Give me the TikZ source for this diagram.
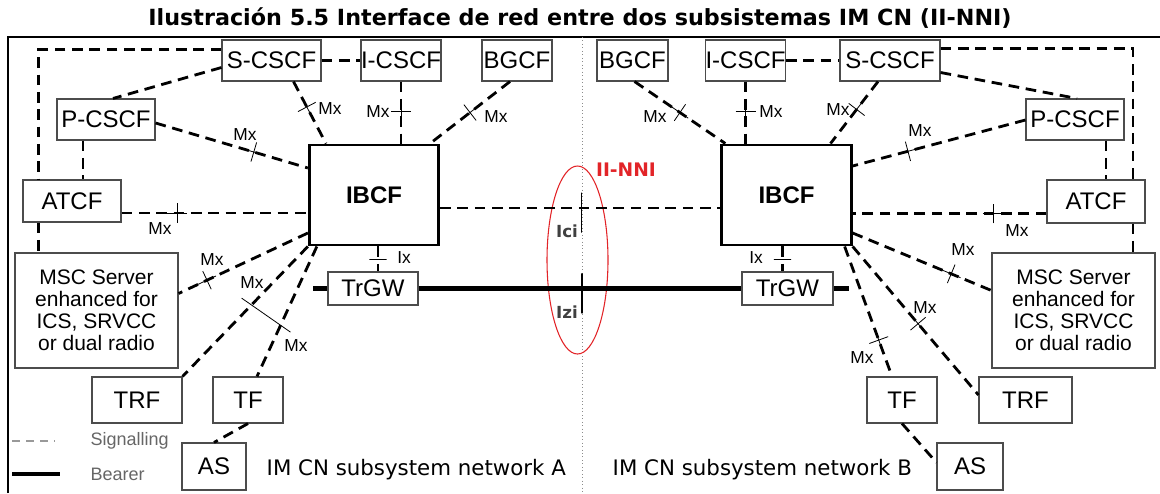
\documentclass[tikz,border=0pt]{standalone}
\usepackage{fontspec}
\setmainfont{Liberation Sans}
\newfontfamily\tahfont{DejaVu Sans}
\usepackage{tikz}
\usetikzlibrary{shapes.misc,calc}
\definecolor{nnired}{RGB}{226,36,40}

\begin{document}
\begin{tikzpicture}[x=0.75pt, y=-0.75pt,
    box/.style={draw=black!70, line width=0.8pt, inner sep=0pt, minimum height=30.75pt, font=\fontsize{18}{20}\selectfont},
    ibcf/.style={draw, line width=2.2pt, inner sep=0pt, minimum width=97pt, minimum height=75pt, font=\bfseries\fontsize{18}{20}\selectfont},
    msc/.style={box, minimum width=122.25pt, minimum height=86.25pt, align=center, font=\fontsize{15.75}{16.5}\selectfont},
    sig/.style={line width=2.1pt, dash pattern=on 8pt off 5pt},
    bearer/.style={line width=3.2pt},
    cross/.style={sloped, cross out, draw, solid, rotate=45, minimum size=10pt, inner sep=0pt, line width=0.6pt},
    bar/.style={sloped, draw, solid, inner sep=0pt, minimum width=0pt, line width=0.7pt},
    mx/.style={font=\fontsize{13}{15}\selectfont},
    netlabel/.style={anchor=west, font=\tahfont\fontsize{16}{18}\selectfont},
    legend/.style={anchor=west, text=black!60, font=\fontsize{13.5}{15}\selectfont}]

    \useasboundingbox (0, 0) rectangle (1160, 493);

    \node [font=\tahfont\bfseries\fontsize{16.7}{19}\selectfont] (title) at (580, 18) {Ilustración 5.5 Interface de red entre dos subsistemas IM CN (II-NNI)};
    \draw [line width=1.1pt] (8, 493) |- (1160, 37);
    \draw [black!45, dotted, line width=0.6pt] (582, 37) -- (582, 493);

    \node [box, minimum width=74.25pt] (sA) at (271.5, 60.5) {S-CSCF};
    \node [box, minimum width=58.5pt] (iA) at (401, 60.5) {I-CSCF};
    \node [box, minimum width=52.5pt] (bA) at (517, 60.5) {BGCF};
    \node [box, minimum width=73.5pt] (pA) at (106, 119.5) {P-CSCF};
    \node [box, minimum width=73.5pt, minimum height=31.5pt] (aA) at (72, 201) {ATCF};
    \node [ibcf] (ibA) at (374, 195) {IBCF};
    \node [box, minimum width=67.5pt, minimum height=24.75pt] (tA) at (373, 288.5) {TrGW};
    \node [msc] (mA) at (96.5, 310.5) {MSC Server\\enhanced for\\ICS, SRVCC\\or dual radio};
    \node [box, minimum width=67.5pt, minimum height=34.5pt] (trA) at (137, 400) {TRF};
    \node [box, minimum width=52.5pt, minimum height=34.5pt] (tfA) at (248, 400) {TF};
    \node [box, minimum width=48pt, minimum height=35.25pt] (asA) at (214, 466.5) {AS};

    \node [box, minimum width=75pt] (sB) at (890, 60.5) {S-CSCF};
    \node [box, minimum width=59.25pt] (iB) at (745.5, 60.5) {I-CSCF};
    \node [box, minimum width=53.25pt] (bB) at (632.5, 60.5) {BGCF};
    \node [box, minimum width=73.5pt] (pB) at (1075, 119.5) {P-CSCF};
    \node [box, minimum width=73.5pt, minimum height=32.25pt] (aB) at (1096, 201.5) {ATCF};
    \node [ibcf] (ibB) at (786.5, 195) {IBCF};
    \node [box, minimum width=68.25pt, minimum height=24.75pt] (tB) at (787.5, 288.5) {TrGW};
    \node [msc] (mB) at (1073.5, 310.5) {MSC Server\\enhanced for\\ICS, SRVCC\\or dual radio};
    \node [box, minimum width=52.5pt, minimum height=34.5pt] (tfB) at (902, 400) {TF};
    \node [box, minimum width=69.75pt, minimum height=34.5pt] (trB) at (1025.5, 400) {TRF};
    \node [box, minimum width=49.5pt, minimum height=35.25pt] (asB) at (970, 466.5) {AS};

    \node [text=nnired, font=\tahfont\bfseries\fontsize{14}{16}\selectfont] (nni) at (626, 170) {II-NNI};
    \draw [nnired, line width=0.8pt] (577.5, 260) ellipse [x radius=30.5, y radius=94];
    \node [text=black!75, font=\tahfont\bfseries\fontsize{12.5}{14}\selectfont] (ici) at (567, 231) {Ici};
    \node [text=black!75, font=\tahfont\bfseries\fontsize{12.5}{14}\selectfont] (izi) at (567, 312) {Izi};
    \node [font=\fontsize{13}{15}\selectfont] (ixA) at (404, 258) {Ix};
    \node [font=\fontsize{13}{15}\selectfont] (ixB) at (756, 258) {Ix};
    \node [netlabel] (netA) at (262, 470) {IM CN subsystem network A};
    \node [netlabel] (netB) at (608, 470) {IM CN subsystem network B};

    \draw [black!40, line width=1.3pt, dash pattern=on 6pt off 4.5pt] (12, 441) -- (55, 441);
    \node [legend] (sigl) at (86, 441) {Signalling};
    \draw [line width=3.5pt] (12, 474) -- (60, 474);
    \node [legend] (bearl) at (86, 474) {Bearer};

    \node [mx] (m1) at (245, 135) {Mx};
    \node [mx] (m2) at (160, 229) {Mx};
    \node [mx] (m3) at (330, 109) {Mx};
    \node [mx] (m4) at (378, 112) {Mx};
    \node [mx] (m5) at (496, 117) {Mx};
    \node [mx] (m6) at (212, 260) {Mx};
    \node [mx] (m7) at (252, 283) {Mx};
    \node [mx] (m8) at (296, 346) {Mx};
    \node [mx] (m9) at (920, 131) {Mx};
    \node [mx] (m10) at (1017, 231) {Mx};
    \node [mx] (m11) at (838, 110) {Mx};
    \node [mx] (m12) at (771, 112) {Mx};
    \node [mx] (m13) at (655, 117) {Mx};
    \node [mx] (m14) at (963, 250) {Mx};
    \node [mx] (m15) at (862, 358) {Mx};
    \node [mx] (m16) at (925, 308) {Mx};

    \draw [sig] (sA.east) to (iA.west);
    \draw [sig] ([shift={(0,-11)}]sA.west) -| ([shift={(16,0)}]aA.north west);
    \draw [sig] ([shift={(16,0)}]aA.south west) to ([shift={(24,0)}]mA.north west);
    \draw [sig] ([shift={(0,7)}]sA.west) to ([shift={(7,0)}]pA.north);
    \draw [sig] ([shift={(-23,0)}]pA.south) to ([shift={(11,0)}]aA.north);
    \draw [sig] ([shift={(0,3.5)}]pA.east) to node [cross, pos=0.645] {} ([shift={(0,-27)}]ibA.west);
    \draw [sig] ([shift={(0,12)}]aA.east) to node [cross, pos=0.3] {} ([shift={(0,18)}]ibA.west);
    \draw [sig] ([shift={(22,0)}]sA.south) to node [cross, pos=0.41] {} ([shift={(-48,0)}]ibA.north);
    \draw [sig] (iA.south) to node [cross, pos=0.48] {} ([shift={(27,0)}]ibA.north);
    \draw [sig] ([shift={(-7,0)}]bA.south) to node [cross, pos=0.5] {} ([shift={(56,0)}]ibA.north);
    \draw [sig] ([shift={(0,38)}]ibA.west) to node [cross, pos=0.78] {} ([shift={(0,-17)}]mA.east);
    \draw [sig] (ibA.south west) to node [coordinate, pos=0.45] (xtr) {} (trA.north east);
    \draw [sig] ([shift={(9,0)}]ibA.south west) to node [coordinate, pos=0.606] (xtf) {} ([shift={(9,0)}]tfA.north);
    \draw [line width=0.6pt] ($(xtr)!-9pt!(xtf)$) -- ($(xtf)!-9pt!(xtr)$);
    \draw [sig] (tfA.south) to (asA.north);
    \draw [sig] ([shift={(4,0)}]ibA.south) to node [bar, pos=0.5, minimum height=13pt] {} ([shift={(5,0)}]tA.north);

    \draw [sig] (iB.east) to (sB.west);
    \draw [sig] ([shift={(0,-12)}]sB.east) -| ([shift={(37,0)}]aB.north);
    \draw [sig] ([shift={(37,0)}]aB.south) to ([shift={(59.5,0)}]mB.north);
    \draw [sig] ([shift={(0,12)}]sB.east) to ([shift={(2,0)}]pB.north);
    \draw [sig] ([shift={(31,0)}]pB.south) to ([shift={(10,0)}]aB.north);
    \draw [sig] ([shift={(0,0.5)}]pB.west) to node [cross, pos=0.68] {} ([shift={(0,-29)}]ibB.east);
    \draw [sig] ([shift={(0,12)}]aB.west) to node [cross, pos=0.276] {} ([shift={(0,18.5)}]ibB.east);
    \draw [sig] ([shift={(-12,0)}]sB.south) to node [cross, pos=0.45] {} ([shift={(44,0)}]ibB.north);
    \draw [sig] (iB.south) to node [cross, pos=0.48] {} ([shift={(-41,0)}]ibB.north);
    \draw [sig] ([shift={(2,0)}]bB.south) to node [cross, pos=0.5] {} ([shift={(5,0)}]ibB.north west);
    \draw [sig] ([shift={(0,38)}]ibB.east) to node [cross, pos=0.71] {} ([shift={(0,-20)}]mB.west);
    \draw [sig] ([shift={(-8,0)}]ibB.south east) to node [cross, pos=0.72] {} ([shift={(-10,0)}]tfB.north);
    \draw [sig] (ibB.south east) to node [cross, pos=0.52] {} ([shift={(0,-5)}]trB.west);
    \draw [sig] (tfB.south) to ([shift={(0,-4)}]asB.west);
    \draw [sig] ([shift={(-4,0)}]ibB.south) to node [bar, pos=0.5, minimum height=13pt] {} ([shift={(-5,0)}]tB.north);

    \draw [sig] ([shift={(0,13)}]ibA.east) to node [bar, pos=0.505, minimum height=30pt, yshift=-3.4pt, line width=1pt] {} ([shift={(0,13)}]ibB.west);
    \coordinate (bl) at (313, 288.5);
    \coordinate (br) at (849, 288.5);
    \draw [bearer] (bl) to (tA.west);
    \draw [bearer] (tA.east) to node [bar, pos=0.506, minimum height=30pt, yshift=-3.7pt, line width=1pt] {} (tB.west);
    \draw [bearer] (tB.east) to (br);

\end{tikzpicture}
\end{document}
